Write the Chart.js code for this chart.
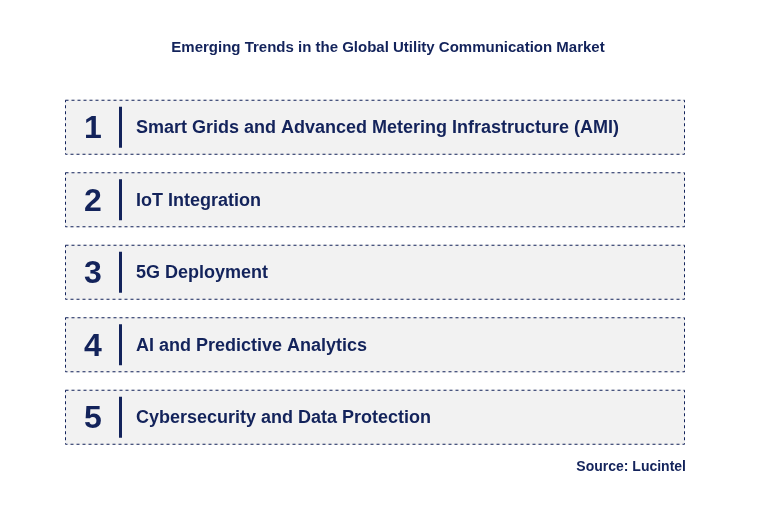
<!DOCTYPE html>
<html>
<head>
<meta charset="utf-8">
<script src="https://cdn.jsdelivr.net/npm/chart.js@4"></script>
<style>
  html, body { margin: 0; padding: 0; background: #fff; }
  #wrap { width: 776px; height: 521px; }
</style>
</head>
<body>
<div id="wrap"><canvas id="trends"></canvas></div>
<script>
const chartTitle = 'Emerging Trends in the Global Utility Communication Market';
const trendNumbers = ['1', '2', '3', '4', '5'];
const trendLabels = [
  'Smart Grids and Advanced Metering Infrastructure (AMI)',
  'IoT Integration',
  '5G Deployment',
  'AI and Predictive Analytics',
  'Cybersecurity and Data Protection'
];
const boxValues = [1, 1, 1, 1, 1];
const sourceText = 'Source: Lucintel';

const navy = '#13235b';

// draws the dashed frames, numbers, divider and texts on top of the bars
const boxPlugin = {
  id: 'boxes',
  afterDatasetsDraw(chart) {
    const ctx = chart.ctx;
    const meta = chart.getDatasetMeta(0);
    ctx.save();
    meta.data.forEach((bar, i) => {
      const left = bar.base, right = bar.x;
      const top = bar.y - bar.height / 2, bottom = bar.y + bar.height / 2;
      ctx.setLineDash([3, 3]);
      ctx.strokeStyle = navy;
      ctx.lineWidth = 1;
      ctx.strokeRect(left + 0.5, top + 0.5, right - left - 1, bottom - top - 1);
      ctx.setLineDash([]);
      ctx.fillStyle = navy;
      ctx.font = 'bold 32px Arial, "Liberation Sans", sans-serif';
      ctx.textAlign = 'center';
      ctx.textBaseline = 'middle';
      ctx.fillText(trendNumbers[i], left + 28, bar.y + 2);
      ctx.fillRect(left + 54, top + 7, 3, bottom - top - 14);
      ctx.font = 'bold 18px Arial, "Liberation Sans", sans-serif';
      ctx.textAlign = 'left';
      ctx.fillText(trendLabels[i], left + 71, bar.y + 1);
    });
    ctx.font = 'bold 15px Arial, "Liberation Sans", sans-serif';
    ctx.textAlign = 'center';
    ctx.fillText(chartTitle, 388, 48);
    ctx.font = 'bold 14px Arial, "Liberation Sans", sans-serif';
    ctx.textAlign = 'right';
    ctx.fillText(sourceText, 686, 467);
    ctx.restore();
  }
};

new Chart(document.getElementById('trends'), {
  type: 'bar',
  data: {
    labels: trendLabels,
    datasets: [{
      data: boxValues,
      backgroundColor: '#f2f2f2',
      barThickness: 55
    }]
  },
  options: {
    indexAxis: 'y',
    responsive: true,
    maintainAspectRatio: false,
    animation: false,
    layout: { padding: { left: 65, right: 91, top: 91, bottom: 67.5 } },
    scales: {
      x: { display: false, min: 0, max: 1 },
      y: { display: false }
    },
    plugins: {
      legend: { display: false },
      tooltip: { enabled: false }
    }
  },
  plugins: [boxPlugin]
});
</script>
</body>
</html>
